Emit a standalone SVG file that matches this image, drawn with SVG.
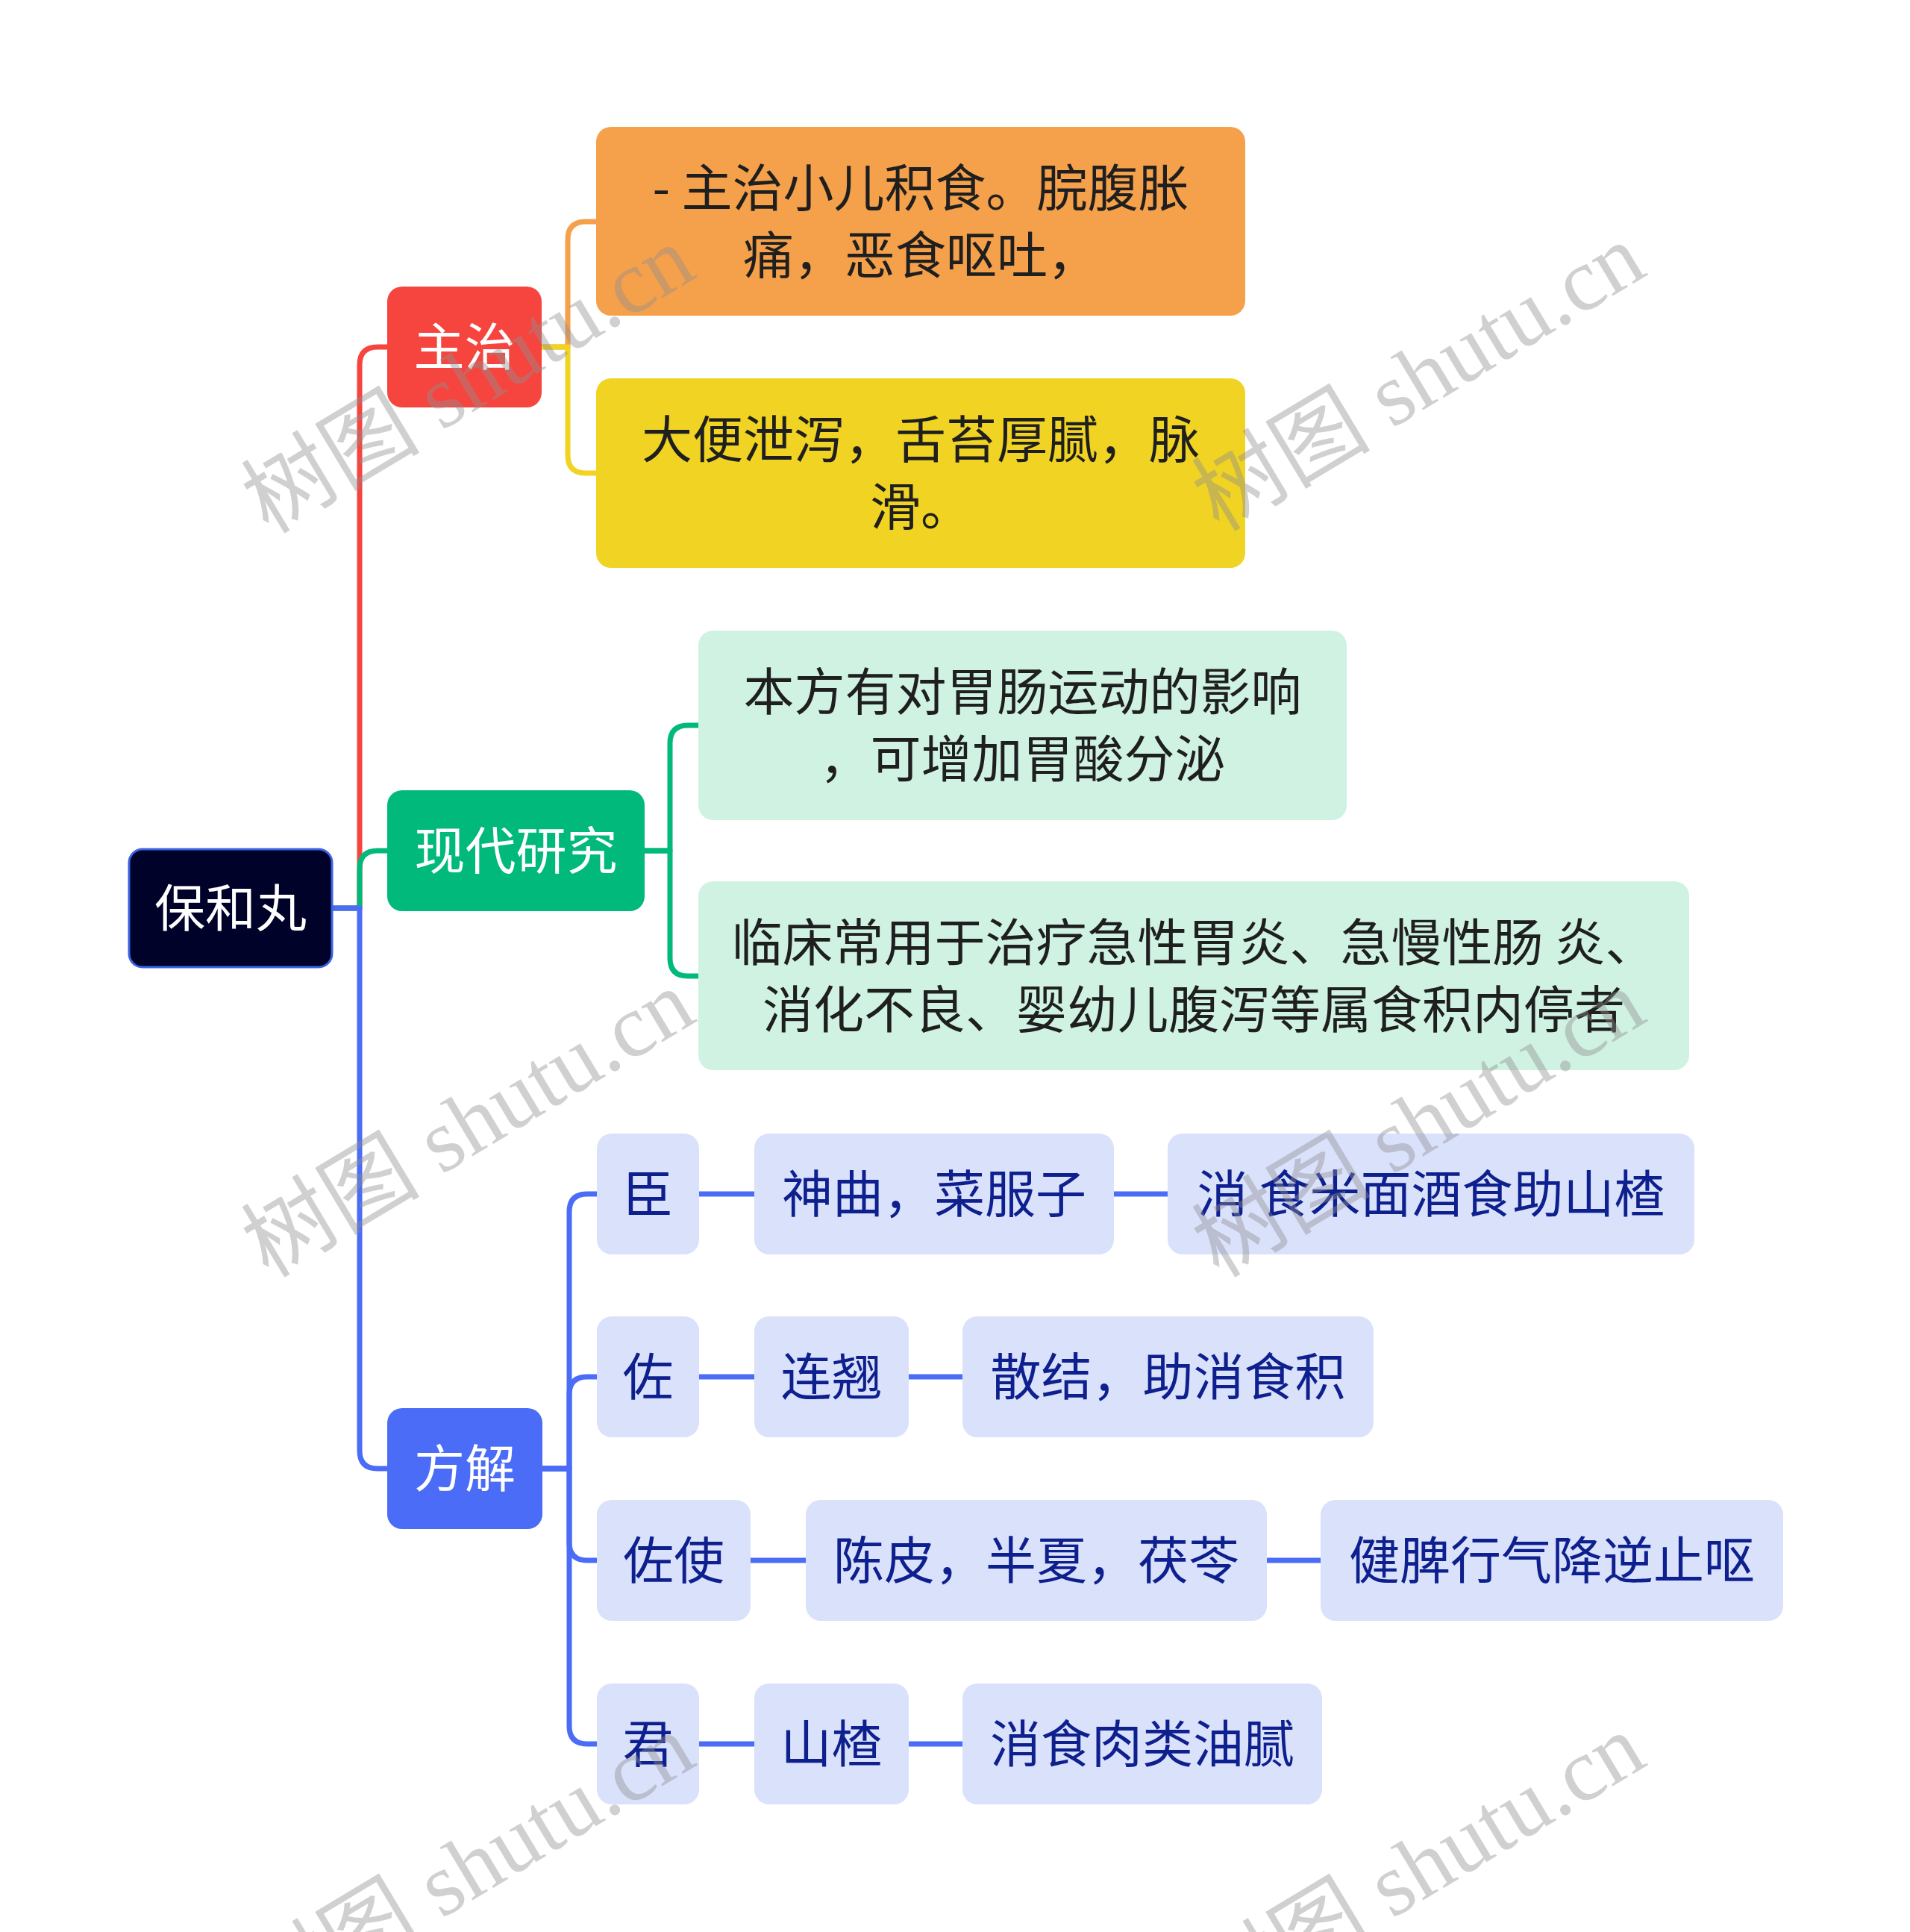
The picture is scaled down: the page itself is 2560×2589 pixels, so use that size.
<svg xmlns="http://www.w3.org/2000/svg" width="2560" height="2589" viewBox="0 0 2560 2589">
<style>
.t{font-family:"Noto Sans CJK SC","Noto Sans",sans-serif;font-size:68px;text-anchor:middle}
.w{fill:#ffffff}
.k{fill:#1f1f1f}
.b{fill:#0e1f8e}
.c{fill:none;stroke-width:7;stroke-linecap:butt;stroke-linejoin:round}
.wm{font-family:"Liberation Serif","Noto Sans CJK SC",serif;font-size:120px;fill:#8f8f8f;fill-opacity:0.42}
.lb{fill:#d9e1fb}
.lg{fill:#cff2e3}
</style>
<rect width="2560" height="2589" fill="#ffffff"/>
<g id="connectors">
<path class="c" stroke="#f6453e" d="M446,1217 H482 V489 Q482,465 506,465 H519"/>
<path class="c" stroke="#00b97a" d="M446,1217 H482 V1164 Q482,1140 506,1140 H519"/>
<path class="c" stroke="#4a6cf6" d="M446,1217 H482 V1944 Q482,1968 506,1968 H519"/>
<path class="c" stroke="#f5a04b" d="M726,465 H761 V321 Q761,297 785,297 H799"/>
<path class="c" stroke="#f0d323" d="M726,465 H761 V610 Q761,634 785,634 H799"/>
<path class="c" stroke="#00b97a" d="M864,1140 H898 V996 Q898,972 922,972 H936"/>
<path class="c" stroke="#00b97a" d="M864,1140 H898 V1284 Q898,1308 922,1308 H936"/>
<path class="c" stroke="#4a6cf6" d="M727,1968 H763 V1624 Q763,1600 787,1600 H800"/>
<path class="c" stroke="#4a6cf6" d="M727,1968 H763 V1869 Q763,1845 787,1845 H800"/>
<path class="c" stroke="#4a6cf6" d="M727,1968 H763 V2067 Q763,2091 787,2091 H800"/>
<path class="c" stroke="#4a6cf6" d="M727,1968 H763 V2313 Q763,2337 787,2337 H800"/>
<path class="c" stroke="#4a6cf6" d="M937,1600 H1011 M1493,1600 H1565"/>
<path class="c" stroke="#4a6cf6" d="M937,1845 H1011 M1218,1845 H1290"/>
<path class="c" stroke="#4a6cf6" d="M1006,2091 H1080 M1698,2091 H1770"/>
<path class="c" stroke="#4a6cf6" d="M937,2337 H1011 M1218,2337 H1290"/>
</g>
<g id="root">
<rect x="173" y="1138" width="272" height="158" rx="18" fill="#000229" stroke="#3b63e6" stroke-width="3"/>
<text class="t w" x="309" y="1242">保和丸</text>
</g>
<g id="zhuzhi">
<rect x="519" y="384" width="207" height="162" rx="20" fill="#f6453e"/>
<text class="t w" x="622.5" y="490">主治</text>
</g>
<g id="xiandai">
<rect x="519" y="1059" width="345" height="162" rx="20" fill="#00b97a"/>
<text class="t w" x="691.5" y="1165">现代研究</text>
</g>
<g id="fangjie">
<rect x="519" y="1887" width="208" height="162" rx="20" fill="#4a6cf6"/>
<text class="t w" x="623" y="1993">方解</text>
</g>
<g id="zz1">
<rect x="799" y="170" width="870" height="253" rx="20" fill="#f5a04b"/>
<text class="t k" x="1234" y="277">- 主治小儿积食。脘腹胀</text>
<text class="t k" x="1234" y="367">痛，恶食呕吐，</text>
</g>
<g id="zz2">
<rect x="799" y="507" width="870" height="254" rx="20" fill="#f0d323"/>
<text class="t k" x="1234" y="614">大便泄泻，舌苔厚腻，脉</text>
<text class="t k" x="1234" y="704">滑。</text>
</g>
<g id="xd1">
<rect class="lg" x="936" y="845" width="869" height="254" rx="20"/>
<text class="t k" x="1370.5" y="952">本方有对胃肠运动的影响</text>
<text class="t k" x="1370.5" y="1042">，可增加胃酸分泌</text>
</g>
<g id="xd2">
<rect class="lg" x="936" y="1181" width="1328" height="253" rx="20"/>
<text class="t k" x="1600" y="1288">临床常用于治疗急性胃炎、急慢性肠 炎、</text>
<text class="t k" x="1600" y="1378">消化不良、婴幼儿腹泻等属食积内停者</text>
</g>
<g id="chen">
<rect class="lb" x="800" y="1519" width="137" height="162" rx="20"/>
<text class="t b" x="868.5" y="1625">臣</text>
</g>
<g id="chen2">
<rect class="lb" x="1011" y="1519" width="482" height="162" rx="20"/>
<text class="t b" x="1252" y="1625">神曲，菜服子</text>
</g>
<g id="chen3">
<rect class="lb" x="1565" y="1519" width="706" height="162" rx="20"/>
<text class="t b" x="1918" y="1625">消 食米面酒食助山楂</text>
</g>
<g id="zuo">
<rect class="lb" x="800" y="1764" width="137" height="162" rx="20"/>
<text class="t b" x="868.5" y="1870">佐</text>
</g>
<g id="zuo2">
<rect class="lb" x="1011" y="1764" width="207" height="162" rx="20"/>
<text class="t b" x="1114.5" y="1870">连翘</text>
</g>
<g id="zuo3">
<rect class="lb" x="1290" y="1764" width="551" height="162" rx="20"/>
<text class="t b" x="1565.5" y="1870">散结，助消食积</text>
</g>
<g id="zuoshi">
<rect class="lb" x="800" y="2010" width="206" height="162" rx="20"/>
<text class="t b" x="903" y="2116">佐使</text>
</g>
<g id="zuoshi2">
<rect class="lb" x="1080" y="2010" width="618" height="162" rx="20"/>
<text class="t b" x="1389" y="2116">陈皮，半夏，茯苓</text>
</g>
<g id="zuoshi3">
<rect class="lb" x="1770" y="2010" width="620" height="162" rx="20"/>
<text class="t b" x="2080" y="2116">健脾行气降逆止呕</text>
</g>
<g id="jun">
<rect class="lb" x="800" y="2256" width="137" height="162" rx="20"/>
<text class="t b" x="868.5" y="2362">君</text>
</g>
<g id="jun2">
<rect class="lb" x="1011" y="2256" width="207" height="162" rx="20"/>
<text class="t b" x="1114.5" y="2362">山楂</text>
</g>
<g id="jun3">
<rect class="lb" x="1290" y="2256" width="482" height="162" rx="20"/>
<text class="t b" x="1531" y="2362">消食肉类油腻</text>
</g>
<g id="watermarks">
<text class="wm" transform="translate(827,436) rotate(-31)" x="-545" y="0" textLength="673" lengthAdjust="spacing">树图 shutu.cn</text>
<text class="wm" transform="translate(2101,433) rotate(-31)" x="-545" y="0" textLength="673" lengthAdjust="spacing">树图 shutu.cn</text>
<text class="wm" transform="translate(827,1433) rotate(-31)" x="-545" y="0" textLength="673" lengthAdjust="spacing">树图 shutu.cn</text>
<text class="wm" transform="translate(2101,1433) rotate(-31)" x="-545" y="0" textLength="673" lengthAdjust="spacing">树图 shutu.cn</text>
<text class="wm" transform="translate(827,2430) rotate(-31)" x="-545" y="0" textLength="673" lengthAdjust="spacing">树图 shutu.cn</text>
<text class="wm" transform="translate(2101,2430) rotate(-31)" x="-545" y="0" textLength="673" lengthAdjust="spacing">树图 shutu.cn</text>
</g>
</svg>
